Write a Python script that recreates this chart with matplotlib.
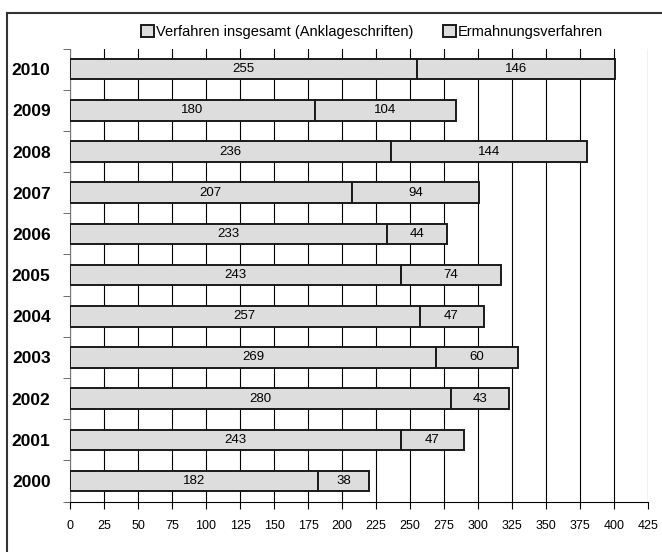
import numpy as np
import matplotlib.pyplot as plt
from matplotlib.lines import Line2D

plt.rcParams['font.family'] = ['Liberation Sans', 'DejaVu Sans']

years = ["2010", "2009", "2008", "2007", "2006", "2005", "2004", "2003", "2002", "2001", "2000"]
insgesamt = [255, 180, 236, 207, 233, 243, 257, 269, 280, 243, 182]
ermahnung = [146, 104, 144, 94, 44, 74, 47, 60, 43, 47, 38]
xticks = list(range(0, 426, 25))

fig = plt.figure(figsize=(6.62, 5.52), dpi=100)
ax = fig.add_axes([0.1057, 0.0913, 0.8733, 0.8207])

y = np.arange(len(years))
fill = '#dddddd'
b1 = ax.barh(y, insgesamt, height=0.5, color=fill, edgecolor='#1a1a1a', linewidth=1.4,
             zorder=3, label='Verfahren insgesamt (Anklageschriften)')
b2 = ax.barh(y, ermahnung, left=insgesamt, height=0.5, color=fill, edgecolor='#1a1a1a',
             linewidth=1.4, zorder=3, label='Ermahnungsverfahren')

for i in range(len(years)):
    ax.text(insgesamt[i] / 2, y[i], str(insgesamt[i]), ha='center', va='center',
            fontsize=9.5, zorder=4)
    ax.text(insgesamt[i] + ermahnung[i] / 2, y[i], str(ermahnung[i]), ha='center',
            va='center', fontsize=9.5, zorder=4)

ax.set_xlim(0, 425)
ax.set_ylim(len(years) - 0.5, -0.5)
ax.set_xticks(xticks)
ax.set_xticklabels([str(t) for t in xticks], fontsize=9)
ax.set_yticks(y)
ax.set_yticklabels(years, fontsize=12.5, fontweight='bold')
ax.set_yticks(np.arange(-0.5, len(years), 1.0), minor=True)
ax.tick_params(axis='y', which='major', length=0, pad=14)
ax.tick_params(axis='y', which='minor', length=5, color='#555555', direction='out')
ax.tick_params(axis='x', length=5, direction='out', color='black', pad=8)
ax.xaxis.grid(True, color='black', linewidth=0.8, zorder=0)
ax.set_axisbelow(True)
for s in ('top', 'right'):
    ax.spines[s].set_visible(False)
ax.spines['left'].set_color('#777777')
ax.spines['bottom'].set_color('black')

fig.legend(handles=[b1, b2], loc='center', bbox_to_anchor=(0.562, 1 - 32 / 552), ncol=2,
           frameon=False, fontsize=10.5, handlelength=0.9, handleheight=0.9,
           handletextpad=0.15, columnspacing=2.0)

# outer frame of the chart area
fig.add_artist(Line2D([7 / 662, 1.0], [1 - 13 / 552, 1 - 13 / 552], color='#333333', linewidth=1.5))
fig.add_artist(Line2D([7 / 662, 7 / 662], [0.0, 1 - 13 / 552], color='#333333', linewidth=1.5))

fig.savefig('out.png', dpi=100)
